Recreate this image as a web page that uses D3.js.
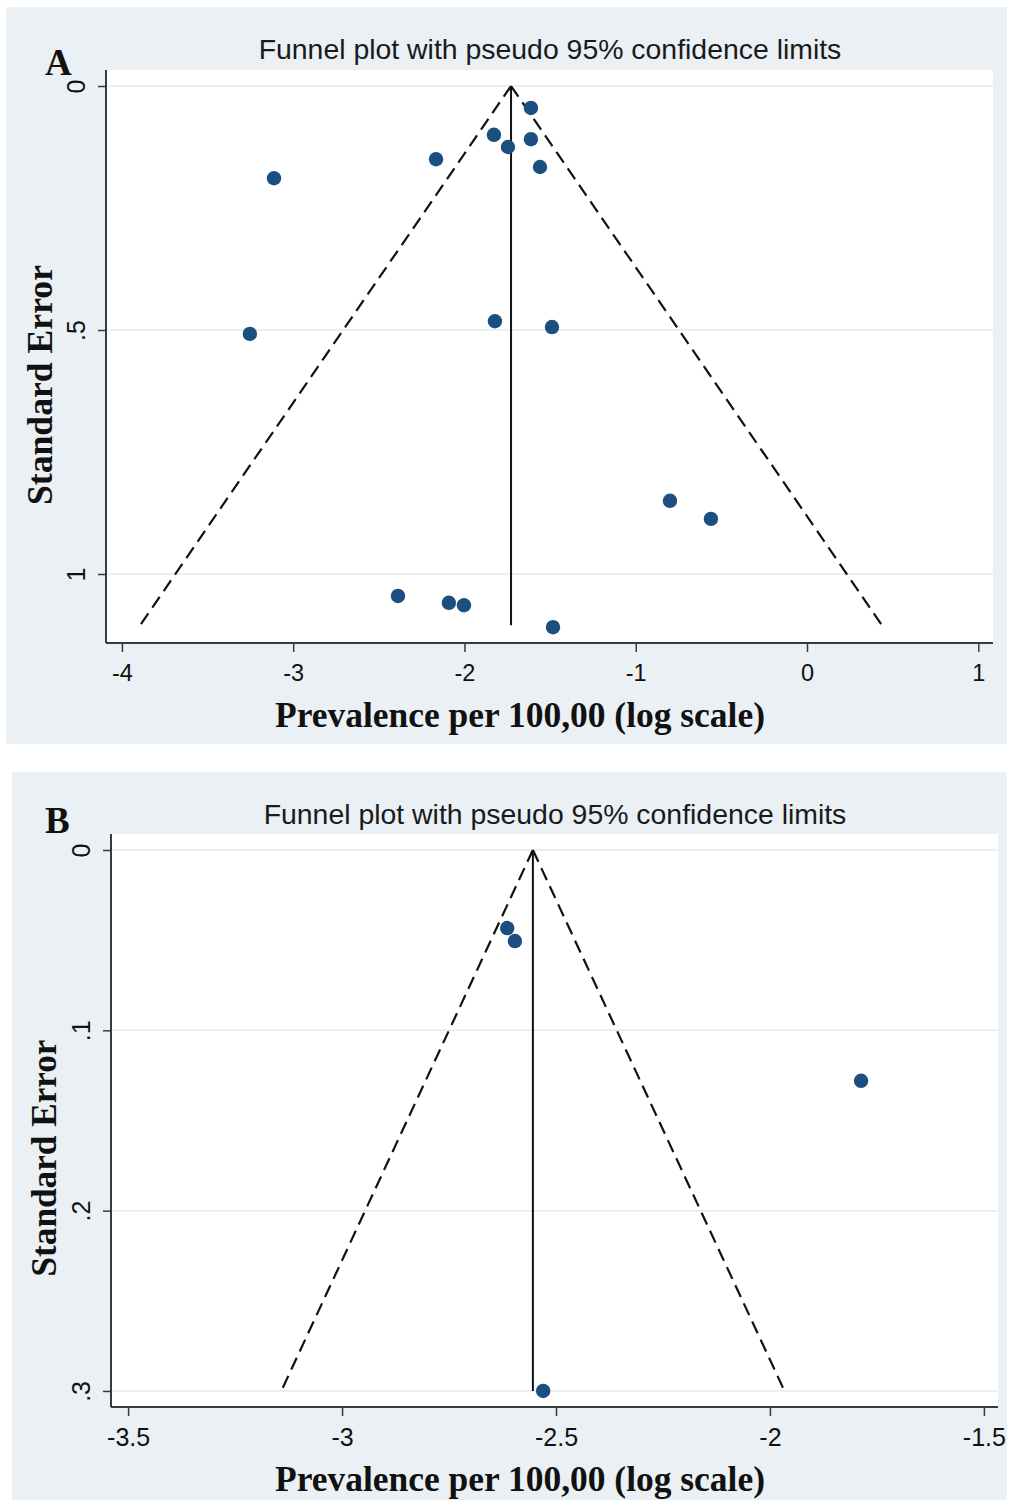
<!DOCTYPE html>
<html><head><meta charset="utf-8">
<script src="https://cdn.jsdelivr.net/npm/d3@7"></script>
<style>body{margin:0;background:#fff}</style>
</head><body><svg id="c" width="1009" height="1503"></svg>
<script>
// ---------- data ----------
const titleText = "Funnel plot with pseudo 95% confidence limits";
const xAxisLabel = "Prevalence per 100,00 (log scale)";
const yAxisLabel = "Standard Error";

// Panel A
const aLabel = "A";
const aEffect = [-1.612, -1.828, -1.612, -1.746, -2.166, -1.559, -3.112, -3.253, -1.822, -1.489, -0.800, -0.561, -2.388, -2.091, -2.003, -1.483];
const aSE     = [0.045, 0.100, 0.109, 0.125, 0.150, 0.166, 0.189, 0.508, 0.482, 0.494, 0.850, 0.887, 1.045, 1.059, 1.064, 1.109];
const aPooled = -1.728;
const aMaxSE = 1.105;
const aXTicks = [-4, -3, -2, -1, 0, 1];
const aXTickLabels = ["-4", "-3", "-2", "-1", "0", "1"];
const aYTicks = [0, 0.5, 1];
const aYTickLabels = ["0", ".5", "1"];

// Panel B
const bLabel = "B";
const bEffect = [-2.614, -2.596, -1.787, -2.530];
const bSE     = [0.0433, 0.0505, 0.128, 0.300];
const bPooled = -2.554;
const bMaxSE = 0.300;
const bXTicks = [-3.5, -3, -2.5, -2, -1.5];
const bXTickLabels = ["-3.5", "-3", "-2.5", "-2", "-1.5"];
const bYTicks = [0, 0.1, 0.2, 0.3];
const bYTickLabels = ["0", ".1", ".2", ".3"];

// ---------- drawing ----------
const svg = d3.select("#c");
const BG = "#eaf0f3", GRID = "#e3eaef", DOT = "#1b4f7f", AXIS = "#3a3a3a";
const sans = "Liberation Sans, Arial, sans-serif";
const serif = "Liberation Serif, Times New Roman, serif";

function fitWidth(t, target) {
  const fs = parseFloat(t.attr("font-size"));
  const w = t.node().getComputedTextLength();
  t.attr("font-size", (fs * target / w).toFixed(2));
}

function panel(o) {
  const g = svg.append("g");
  g.append("rect").attr("x", o.bg[0]).attr("y", o.bg[1]).attr("width", o.bg[2]).attr("height", o.bg[3]).attr("fill", BG);
  const x = d3.scaleLinear().domain(o.xDomain).range([o.left, o.right]);
  const y = d3.scaleLinear().domain(o.yDomain).range([o.top, o.bottom]);
  g.append("rect").attr("x", o.left).attr("y", o.top).attr("width", o.right - o.left).attr("height", o.bottom - o.top).attr("fill", "#fff");
  // grid
  g.selectAll("line.grid").data(o.yTicks).enter().append("line")
    .attr("x1", o.left).attr("x2", o.right).attr("y1", d => y(d)).attr("y2", d => y(d))
    .attr("stroke", GRID).attr("stroke-width", 1.5);
  // axes
  const xa = g.append("g").attr("transform", `translate(0,${o.bottom})`)
    .call(d3.axisBottom(x).tickValues(o.xTicks).tickFormat((d, i) => o.xTickLabels[i]).tickSize(9).tickPadding(o.xPad));
  xa.select(".domain").attr("stroke", AXIS).attr("stroke-width", 2).attr("d", `M${o.left},0H${o.right}`);
  xa.selectAll(".tick line").attr("stroke", AXIS).attr("stroke-width", 1.5);
  xa.selectAll(".tick text").attr("font-family", sans).attr("font-size", o.tickFs).attr("fill", "#111");
  const ya = g.append("g").attr("transform", `translate(${o.left},0)`)
    .call(d3.axisLeft(y).tickValues(o.yTicks).tickFormat((d, i) => o.yTickLabels[i]).tickSize(8));
  ya.select(".domain").attr("stroke", AXIS).attr("stroke-width", 2).attr("d", `M0,${o.top}V${o.bottom}`);
  ya.selectAll(".tick line").attr("stroke", AXIS).attr("stroke-width", 1.5);
  ya.selectAll(".tick text").attr("font-family", sans).attr("font-size", o.yTickFs).attr("fill", "#111")
    .attr("x", null).attr("dy", null).attr("text-anchor", "middle")
    .attr("transform", `translate(${-o.yLabOff},0) rotate(-90)`);
  // funnel
  const z = 1.96;
  const pts = [[o.pooled - z * o.maxSE, o.maxSE], [o.pooled, 0], [o.pooled + z * o.maxSE, o.maxSE]];
  [[pts[1], pts[0]], [pts[1], pts[2]]].forEach(seg => {
    g.append("line").attr("x1", x(seg[0][0])).attr("y1", y(seg[0][1])).attr("x2", x(seg[1][0])).attr("y2", y(seg[1][1]))
      .attr("stroke", "#111").attr("stroke-width", 2.2).attr("stroke-dasharray", "13,7");
  });
  g.append("line").attr("x1", x(o.pooled)).attr("x2", x(o.pooled)).attr("y1", y(0)).attr("y2", y(o.maxSE))
    .attr("stroke", "#111").attr("stroke-width", 2);
  // dots
  g.selectAll("circle").data(o.effect.map((e, i) => [e, o.se[i]])).enter().append("circle")
    .attr("cx", d => x(d[0])).attr("cy", d => y(d[1])).attr("r", 7.2).attr("fill", DOT);
  // texts
  const t = g.append("text").attr("x", o.titleX).attr("y", o.titleY).attr("text-anchor", "middle")
    .attr("font-family", sans).attr("font-size", 26).attr("fill", "#1a1a1a").text(titleText);
  fitWidth(t, 583);
  const xl = g.append("text").attr("x", 520).attr("y", o.xLabY).attr("text-anchor", "middle")
    .attr("font-family", serif).attr("font-weight", "bold").attr("font-size", 32).attr("fill", "#111").text(xAxisLabel);
  fitWidth(xl, 490);
  const yl = g.append("text").attr("transform", `translate(${o.yLabX},${o.yLabY}) rotate(-90)`).attr("text-anchor", "middle")
    .attr("font-family", serif).attr("font-weight", "bold").attr("font-size", 32).attr("fill", "#111").text(yAxisLabel);
  fitWidth(yl, o.yLabW);
  g.append("text").attr("x", 45).attr("y", o.letterY).attr("font-family", serif).attr("font-weight", "bold")
    .attr("font-size", 37).attr("fill", "#111").text(o.letter);
}

panel({
  bg: [6, 7, 1001, 737], left: 106, right: 993, top: 70, bottom: 643,
  xDomain: [-4.093, 1.086], yDomain: [-0.0328, 1.1414],
  xTicks: aXTicks, xTickLabels: aXTickLabels, yTicks: aYTicks, yTickLabels: aYTickLabels,
  tickFs: 23.5, yTickFs: 25, xPad: 12, yLabOff: 21,
  effect: aEffect, se: aSE, pooled: aPooled, maxSE: aMaxSE,
  titleX: 550, titleY: 59, xLabY: 727, yLabX: 52, yLabY: 385, yLabW: 240,
  letter: aLabel, letterY: 75
});
panel({
  bg: [12, 772, 995, 728], left: 111, right: 998, top: 834, bottom: 1407,
  xDomain: [-3.540, -1.467], yDomain: [-0.00887, 0.3089],
  xTicks: bXTicks, xTickLabels: bXTickLabels, yTicks: bYTicks, yTickLabels: bYTickLabels,
  tickFs: 25, yTickFs: 25, xPad: 12, yLabOff: 21,
  effect: bEffect, se: bSE, pooled: bPooled, maxSE: bMaxSE,
  titleX: 555, titleY: 824, xLabY: 1491, yLabX: 56, yLabY: 1158, yLabW: 237,
  letter: bLabel, letterY: 833
});
</script></body></html>
